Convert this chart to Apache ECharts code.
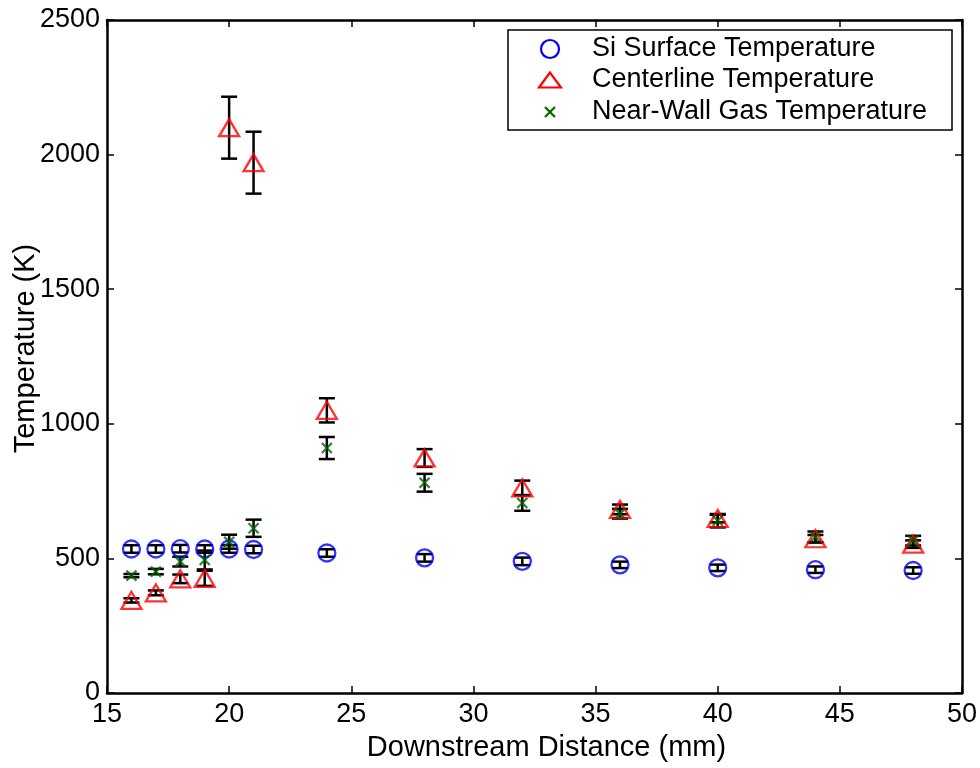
<!DOCTYPE html>
<html>
<head>
<meta charset="utf-8">
<title>Temperature vs Downstream Distance</title>
<script src="https://cdn.jsdelivr.net/npm/echarts@6/dist/echarts.min.js"></script>
<style>
  html, body { margin: 0; padding: 0; background: #fff; }
  #chart { width: 980px; height: 768px; }
</style>
</head>
<body>
<div id="chart"></div>
<script>
// Measurement positions (mm downstream)
const distance = [16, 17, 18, 19, 20, 21, 24, 28, 32, 36, 40, 44, 48];

// Si surface temperature (K) and uncertainty
const siSurface    = [535, 535, 536, 535, 535, 533, 520, 502, 489, 476, 465, 458, 455];
const siSurfaceErr = [14, 14, 14, 14, 14, 14, 14, 14, 14, 12, 12, 12, 12];

// Centerline gas temperature (K) and uncertainty
const centerline    = [344, 372, 424, 426, 2100, 1970, 1050, 873, 762, 682, 648, 573, 553];
const centerlineErr = [8, 9, 16, 28, 115, 115, 45, 33, 27, 18, 14, 14, 14];

// Near-wall gas temperature (K) and uncertainty
const nearWall    = [436, 451, 488, 494, 562, 612, 910, 781, 706, 666, 640, 580, 566];
const nearWallErr = [6, 10, 18, 35, 26, 32, 41, 33, 29, 18, 25, 20, 18];

const seriesNames = ['Si Surface Temperature', 'Centerline Temperature', 'Near-Wall Gas Temperature'];
const xTicks = { min: 15, max: 50, interval: 5 };
const yTicks = { min: 0, max: 2500, interval: 500 };

const FONT = '"Liberation Sans", Arial, Helvetica, sans-serif';
const FS = 27;
const NAME_FS = 29;

function points(ys) {
  return distance.map((x, i) => [x, ys[i]]);
}
function bars(ys, errs) {
  return distance.map((x, i) => [x, ys[i] - errs[i], ys[i] + errs[i]]);
}

// Vertical error bar with caps, placed through the axis scales
function renderErrorBar(params, api) {
  const x = api.value(0);
  const top = api.coord([x, api.value(2)]);
  const bot = api.coord([x, api.value(1)]);
  const hw = 8;
  const st = { stroke: '#000', lineWidth: 2.5 };
  return {
    type: 'group',
    children: [
      { type: 'line', shape: { x1: top[0], y1: top[1], x2: bot[0], y2: bot[1] }, style: st },
      { type: 'line', shape: { x1: top[0] - hw, y1: top[1], x2: top[0] + hw, y2: top[1] }, style: st },
      { type: 'line', shape: { x1: bot[0] - hw, y1: bot[1], x2: bot[0] + hw, y2: bot[1] }, style: st }
    ]
  };
}

function errorSeries(ys, errs) {
  return {
    type: 'custom',
    renderItem: renderErrorBar,
    data: bars(ys, errs),
    encode: { x: 0, y: [1, 2] },
    silent: true,
    clip: false
  };
}

const crossPath = 'path://M0,0L10,10M10,0L0,10';

const axisLineStyle = { color: '#000', width: 2.5 };
const tickStyle = { show: true, inside: true, length: 7, lineStyle: { color: '#000', width: 1.5 } };
const plainNumber = v => String(v);

// Legend drawn as a boxed panel in the upper right
const legendLeft = 508, legendTop = 30, legendW = 444, legendH = 100;
const rowY = [49, 80, 112];
const iconX = 550, textX = 592;

const legendGraphic = {
  type: 'group',
  z: 100,
  children: [
    { type: 'rect', shape: { x: legendLeft, y: legendTop, width: legendW, height: legendH },
      style: { fill: '#fff', stroke: '#000', lineWidth: 1.5 } },
    { type: 'circle', shape: { cx: iconX, cy: rowY[0], r: 9 },
      style: { fill: 'none', stroke: '#0000ff', lineWidth: 2.2 } },
    { type: 'polygon', shape: { points: [[iconX, rowY[1] - 7.5], [iconX - 11, rowY[1] + 7.5], [iconX + 11, rowY[1] + 7.5]] },
      style: { fill: 'none', stroke: '#ff0000', lineWidth: 2.2 } },
    { type: 'line', shape: { x1: iconX - 5, y1: rowY[2] - 5, x2: iconX + 5, y2: rowY[2] + 5 },
      style: { stroke: '#006400', lineWidth: 2.2 } },
    { type: 'line', shape: { x1: iconX + 5, y1: rowY[2] - 5, x2: iconX - 5, y2: rowY[2] + 5 },
      style: { stroke: '#006400', lineWidth: 2.2 } }
  ].concat(seriesNames.map((name, i) => ({
    type: 'text',
    style: { x: textX, y: rowY[i], text: name, font: FS + 'px ' + FONT, fill: '#000', textVerticalAlign: 'middle' }
  })))
};

const option = {
  backgroundColor: '#fff',
  animation: false,
  textStyle: { fontFamily: FONT },
  grid: { left: 107, right: 18, top: 20, bottom: 75, containLabel: false, outerBoundsMode: 'none' },
  xAxis: [
    {
      type: 'value', position: 'bottom', min: xTicks.min, max: xTicks.max, interval: xTicks.interval,
      name: 'Downstream Distance (mm)', nameLocation: 'middle', nameGap: 40,
      nameTextStyle: { fontSize: NAME_FS, color: '#000', fontFamily: FONT, padding: [0, 0, 0, 24] },
      axisLine: { show: true, onZero: false, lineStyle: axisLineStyle },
      axisTick: tickStyle,
      axisLabel: { fontSize: FS, color: '#000', margin: 8, fontFamily: FONT, formatter: plainNumber },
      splitLine: { show: false }
    },
    {
      type: 'value', position: 'top', min: xTicks.min, max: xTicks.max, interval: xTicks.interval,
      axisLine: { show: true, onZero: false, lineStyle: axisLineStyle },
      axisTick: tickStyle,
      axisLabel: { show: false },
      splitLine: { show: false }
    }
  ],
  yAxis: [
    {
      type: 'value', position: 'left', min: yTicks.min, max: yTicks.max, interval: yTicks.interval,
      name: 'Temperature (K)', nameLocation: 'middle', nameGap: 67, nameMoveOverlap: false,
      nameTextStyle: { fontSize: NAME_FS, color: '#000', fontFamily: FONT, padding: [0, 0, 0, 16] },
      axisLine: { show: true, onZero: false, lineStyle: axisLineStyle },
      axisTick: tickStyle,
      axisLabel: { fontSize: FS, color: '#000', margin: 7, fontFamily: FONT, formatter: plainNumber },
      splitLine: { show: false }
    },
    {
      type: 'value', position: 'right', min: yTicks.min, max: yTicks.max, interval: yTicks.interval,
      axisLine: { show: true, onZero: false, lineStyle: axisLineStyle },
      axisTick: tickStyle,
      axisLabel: { show: false },
      splitLine: { show: false }
    }
  ],
  graphic: [legendGraphic],
  series: [
    {
      name: seriesNames[0], type: 'scatter', data: points(siSurface),
      symbol: 'circle', symbolSize: 17, silent: true,
      itemStyle: { color: 'rgba(0,0,0,0)', borderColor: '#0000ff', borderWidth: 2.3 }
    },
    errorSeries(siSurface, siSurfaceErr),
    {
      name: seriesNames[1], type: 'scatter', data: points(centerline),
      symbol: 'triangle', symbolSize: [20, 17], silent: true,
      itemStyle: { color: 'rgba(0,0,0,0)', borderColor: '#ff0000', borderWidth: 2.3 }
    },
    errorSeries(centerline, centerlineErr),
    {
      name: seriesNames[2], type: 'scatter', data: points(nearWall),
      symbol: crossPath, symbolSize: 10, silent: true,
      itemStyle: { color: 'rgba(0,0,0,0)', borderColor: '#006400', borderWidth: 2.3 }
    },
    errorSeries(nearWall, nearWallErr)
  ]
};

const chart = echarts.init(document.getElementById('chart'), null, { renderer: 'canvas' });
chart.setOption(option);
</script>
</body>
</html>
